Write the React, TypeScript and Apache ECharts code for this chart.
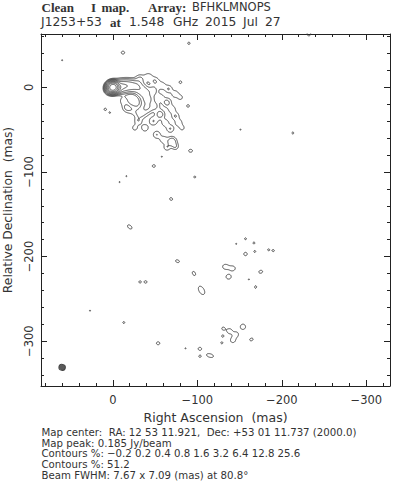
import React, { useEffect, useRef } from "react";
import * as echarts from "echarts";

// ---------------- data ----------------
const raLimits = [-328, 85]; // mas (RA increases to the left)
const decLimits = [-353, 63]; // mas
const contourPercents = [-0.2, 0.2, 0.4, 0.8, 1.6, 3.2, 6.4, 12.8, 25.6, 51.2];
const peakJy = 0.185;
const beamFwhm = [7.67, 7.09];
const beamPA = 80.8;
const beamCenter = [60, -331];
const mapCenterText = "RA: 12 53 11.921,  Dec: +53 01 11.737 (2000.0)";
const title1Words = ["Clean", "I", "map.", "Array:", "BFHKLMNOPS"];
const title2Words = ["J1253+53", "at", "1.548", "GHz", "2015", "Jul", "27"];

// model components: [RA mas, Dec mas, % of peak, FWHM major, FWHM minor, angle deg]
const coreComponents = [
  [0, 0, 96, 7.6, 7.0, 10],
  [-4, -1, 6, 8, 7, 0],
  [3, -3, 1.5, 8, 7, 0],
];
const jetComponents = [
  [-10, 1, 3.2, 12, 10, 0],
  [-19, 2, 2.0, 12, 10, 0],
  [-28, 1, 1.5, 12, 10, 0],
  [-36, -5, 1.2, 12, 10, 0],
  [-41, -14, 1.0, 12, 10, 0],
  [-40, -24, 0.8, 12, 10, 0],
  [-33, -31, 0.5, 12, 10, 0],
  [-22, -26, 0.32, 12, 10, 0],
  [-13, -16, 0.3, 10, 10, 0],
];
const diffuseComponents = [
  [-32, 10, 0.4, 9, 9, 0],
  [-42, 12, 0.35, 9, 9, 0],
  [-50, 7, 0.4, 9, 9, 0],
  [-58, 2, 0.35, 8, 8, 0],
  [-66, -2, 0.4, 8, 8, 0],
  [-74, -8, 0.35, 8, 8, 0],
  [-80, -12, 0.28, 6, 6, 0],
  [-48, -4, 0.55, 9, 9, 0],
  [-56, -12, 0.35, 8, 8, 0],
  [-64, -18, 0.5, 9, 9, 0],
  [-70, -26, 0.35, 8, 8, 0],
  [-74, -34, 0.4, 8, 8, 0],
  [-78, -42, 0.35, 8, 8, 0],
  [-82, -48, 0.28, 6, 6, 0],
  [-50, -22, 0.4, 9, 9, 0],
  [-56, -32, 0.55, 9, 9, 0],
  [-48, -40, 0.4, 9, 9, 0],
  [-62, -42, 0.35, 8, 8, 0],
  [-68, -49, 0.4, 8, 8, 0],
  [-30, -40, 0.35, 8, 8, 0],
  [-38, -48, 0.35, 8, 8, 0],
  [-26, -48, 0.28, 7, 7, 0],
  [-52, -56, 0.4, 8, 8, 0],
  [-60, -62, 0.35, 8, 8, 0],
  [-70, -64, 0.65, 9, 9, 0],
  [-64, -71, 0.35, 7, 7, 0],
  [-74, -70, 0.35, 7, 7, 0],
  [-16, -24, 0.33, 8, 8, 0],
];
const knotComponents = [
  [-90, 52, 0.23, 6, 6, 0],
  [-12, 41, 0.25, 7, 6, 0],
  [60, 32, 0.21, 5, 5, 0],
  [-80, 6, 0.24, 6, 6, 0],
  [-89, -22, 0.24, 6, 6, 0],
  [9, -26, 0.23, 6, 6, 0],
  [3.5, -30, 0.21, 5, 5, 0],
  [-92, -75, 0.25, 8, 6, 0],
  [-58, -82, 0.21, 5, 5, 0],
  [-48.5, -93, 0.24, 7, 6, 0],
  [-16, -105, 0.21, 5, 5, 0],
  [-8, -112, 0.21, 5, 5, 0],
  [-97, -106, 0.22, 6, 6, 0],
  [-69, -132, 0.24, 7, 6, -30],
  [-232, 63, 0.26, 7, 7, 0],
  [-151, -50, 0.21, 5, 5, 0],
  [-213, -54, 0.22, 6, 6, 0],
  [-20, -165, 0.26, 10, 6, -40],
  [-146, -185, 0.21, 5, 5, 0],
  [-157, -179, 0.22, 6, 6, 0],
  [-167, -184, 0.22, 6, 6, 0],
  [-157, -197, 0.25, 7, 7, 0],
  [-168, -194, 0.22, 6, 6, 0],
  [-184, -192, 0.21, 5, 5, 0],
  [-190, -193, 0.22, 6, 6, 0],
  [-76.5, -205.5, 0.24, 9, 6, -20],
  [-96, -220, 0.25, 9, 6, -60],
  [-133, -212, 0.27, 9, 8, 0],
  [-142, -214, 0.26, 9, 8, 0],
  [-137, -224, 0.27, 9, 8, 0],
  [-175, -218, 0.25, 8, 6, 15],
  [-161, -227, 0.21, 5, 5, 0],
  [-169, -236, 0.23, 7, 5, 80],
  [-32, -230, 0.22, 6, 6, 0],
  [-39, -230, 0.23, 6, 6, 0],
  [-105, -240, 0.3, 14, 8, -60],
  [-13, -278, 0.22, 6, 6, 0],
  [27, -264, 0.21, 5, 5, 0],
  [-130.5, -285, 0.23, 6, 6, 0],
  [-138, -288, 0.27, 8, 8, 0],
  [-146, -292, 0.26, 8, 8, 0],
  [-142, -299, 0.27, 8, 8, 0],
  [-154, -283, 0.3, 8, 8, 0],
  [-130, -294, 0.22, 6, 6, 0],
  [-129, -302, 0.22, 6, 6, 0],
  [-164, -298, 0.24, 8, 6, 20],
  [-53.6, -302.5, 0.25, 7, 6, 0],
  [-86, -308.5, 0.21, 5, 5, 0],
  [-103, -309, 0.25, 7, 6, 0],
  [-103, -318, 0.22, 6, 6, 0],
  [-115, -317, 0.28, 12, 6, -15],
];

// ---------------- layout ----------------
const title1X = [41.5, 91, 101.5, 148, 192];
const title1Serif = [true, true, true, true, false];
const title2X = [41, 110, 129, 173, 205, 243, 265];
const title2Serif = [false, true, false, false, false, false, false];
const SANS = "'DejaVu Sans', sans-serif";
const SERIF = "'Liberation Serif', serif";
const INK = "#333";

// ---------------- model image + contouring ----------------
function buildImage(step: number) {
  const x0 = raLimits[0] - 4;
  const y0 = decLimits[0] - 4;
  const nx = Math.ceil((raLimits[1] - raLimits[0] + 8) / step) + 1;
  const ny = Math.ceil((decLimits[1] - decLimits[0] + 8) / step) + 1;
  const f = new Float32Array(nx * ny);
  const all = [...coreComponents, ...jetComponents, ...diffuseComponents, ...knotComponents];
  for (const c of all) {
    const [ra, dec, amp, fMaj, fMin, ang] = c;
    const sMaj = fMaj / 2.3548;
    const sMin = fMin / 2.3548;
    const th = (ang * Math.PI) / 180;
    const ct = Math.cos(th);
    const st = Math.sin(th);
    const R = 5 * sMaj;
    const i0 = Math.max(0, Math.floor((ra - R - x0) / step));
    const i1 = Math.min(nx - 1, Math.ceil((ra + R - x0) / step));
    const j0 = Math.max(0, Math.floor((dec - R - y0) / step));
    const j1 = Math.min(ny - 1, Math.ceil((dec + R - y0) / step));
    for (let j = j0; j <= j1; j++) {
      const v = y0 + j * step - dec;
      for (let i = i0; i <= i1; i++) {
        const u = -(x0 + i * step - ra);
        const p = u * ct + v * st;
        const q = -u * st + v * ct;
        f[j * nx + i] += amp * Math.exp(-0.5 * ((p * p) / (sMaj * sMaj) + (q * q) / (sMin * sMin)));
      }
    }
  }
  return { f, nx, ny, x0, y0, step };
}

function contourLines(img: any, L: number): number[][][] {
  const { f, nx, ny, x0, y0, step } = img;
  const pts = new Map<number, number[]>();
  const adj = new Map<number, number[]>();
  const V = (i: number, j: number) => f[j * nx + i];
  const keyH = (i: number, j: number) => (j * nx + i) * 2;
  const keyV = (i: number, j: number) => (j * nx + i) * 2 + 1;
  const getPt = (k: number) => {
    let p = pts.get(k);
    if (p) return p;
    const cell = k >> 1;
    const i = cell % nx;
    const j = (cell - i) / nx;
    if ((k & 1) === 0) {
      const a = V(i, j), b = V(i + 1, j);
      const t = (L - a) / (b - a);
      p = [x0 + (i + t) * step, y0 + j * step];
    } else {
      const a = V(i, j), b = V(i, j + 1);
      const t = (L - a) / (b - a);
      p = [x0 + i * step, y0 + (j + t) * step];
    }
    pts.set(k, p);
    return p;
  };
  const link = (k1: number, k2: number) => {
    getPt(k1);
    getPt(k2);
    if (!adj.has(k1)) adj.set(k1, []);
    if (!adj.has(k2)) adj.set(k2, []);
    adj.get(k1)!.push(k2);
    adj.get(k2)!.push(k1);
  };
  const table: number[][] = [
    [], [3, 0], [0, 1], [3, 1], [1, 2], [3, 0, 1, 2], [0, 2], [3, 2],
    [2, 3], [0, 2], [0, 1, 2, 3], [1, 2], [1, 3], [0, 1], [3, 0], [],
  ];
  for (let j = 0; j < ny - 1; j++) {
    for (let i = 0; i < nx - 1; i++) {
      const a = V(i, j), b = V(i + 1, j), c = V(i + 1, j + 1), d = V(i, j + 1);
      const idx = (a > L ? 1 : 0) | (b > L ? 2 : 0) | (c > L ? 4 : 0) | (d > L ? 8 : 0);
      if (idx === 0 || idx === 15) continue;
      const e = [keyH(i, j), keyV(i + 1, j), keyH(i, j + 1), keyV(i, j)];
      const s = table[idx];
      for (let m = 0; m < s.length; m += 2) link(e[s[m]], e[s[m + 1]]);
    }
  }
  const visited = new Set<number>();
  const out: number[][][] = [];
  const walk = (start: number) => {
    const path = [start];
    visited.add(start);
    let prev = -1;
    let cur = start;
    for (;;) {
      const nb = adj.get(cur)!;
      let next = -1;
      for (const n of nb) if (n !== prev && !visited.has(n)) { next = n; break; }
      if (next < 0) {
        if (path.length > 2 && nb.includes(start)) path.push(start);
        break;
      }
      visited.add(next);
      path.push(next);
      prev = cur;
      cur = next;
    }
    out.push(path.map((k) => pts.get(k)!));
  };
  for (const [k, nb] of adj) if (nb.length === 1 && !visited.has(k)) walk(k);
  for (const k of adj.keys()) if (!visited.has(k)) walk(k);
  return out;
}

const fmtTick = (v: number) => (v % 100 !== 0 ? "" : v === 0 ? "0" : v < 0 ? "\u2212" + Math.abs(v) : String(v));

export default function App() {
  const ref = useRef<HTMLDivElement>(null);
  useEffect(() => {
    if (!ref.current) return;
    const chart = echarts.init(ref.current, undefined, { renderer: "svg" });
    const img = buildImage(0.5);
    const series: any[] = [];
    for (const lev of contourPercents) {
      const polys = contourLines(img, lev);
      if (!polys.length) continue;
      series.push({
        type: "lines",
        coordinateSystem: "cartesian2d",
        polyline: true,
        silent: true,
        clip: true,
        z: 3,
        lineStyle: { color: "#3a3a3a", width: 0.9, opacity: 1, type: lev < 0 ? "dashed" : "solid" },
        data: polys.map((p) => ({ coords: p })),
      });
    }
    series.push({
      type: "custom",
      silent: true,
      z: 4,
      data: [[beamCenter[0], beamCenter[1], beamFwhm[0], beamFwhm[1], beamPA]],
      renderItem: (_p: any, api: any) => {
        const c = api.coord([api.value(0), api.value(1)]);
        const s = api.size([api.value(2), api.value(3)]);
        return {
          type: "ellipse",
          x: c[0],
          y: c[1],
          rotation: ((api.value(4) - 90) * Math.PI) / 180,
          shape: { cx: 0, cy: 0, rx: s[0] / 2, ry: s[1] / 2 },
          style: { fill: "#5a5a5a", stroke: "#444", lineWidth: 1 },
        };
      },
    });

    const axisCommon = {
      type: "value",
      splitLine: { show: false },
      axisLine: { show: true, onZero: false, lineStyle: { color: "#222", width: 1 } },
      axisTick: { show: true, inside: true, length: 6, lineStyle: { color: "#222", width: 1 } },
      minorTick: { show: true, splitNumber: 5, length: 3, lineStyle: { color: "#222", width: 1 } },
      minInterval: 100,
      maxInterval: 100,
    };
    const labelStyle = { fontFamily: SANS, fontSize: 11.5, color: INK };

    const graphics: any[] = [];
    title1Words.forEach((w, i) =>
      graphics.push({
        type: "text",
        x: title1X[i],
        y: 7,
        style: {
          text: w,
          fill: INK,
          font: title1Serif[i] ? `bold 13px ${SERIF}` : `11.5px ${SANS}`,
          verticalAlign: "middle",
        },
      })
    );
    title2Words.forEach((w, i) =>
      graphics.push({
        type: "text",
        x: title2X[i],
        y: 22,
        style: {
          text: w,
          fill: INK,
          font: title2Serif[i] ? `bold 13px ${SERIF}` : `12.3px ${SANS}`,
          verticalAlign: "middle",
        },
      })
    );
    const fmtLev = (v: number) => (v < 0 ? "\u2212" + Math.abs(v) : String(v));
    const footer = [
      "Map center:  " + mapCenterText,
      "Map peak: " + peakJy + " Jy/beam",
      "Contours %: " + contourPercents.slice(0, 9).map(fmtLev).join(" "),
      "Contours %: " + contourPercents.slice(9).map(fmtLev).join(" "),
      "Beam FWHM: " + beamFwhm[0] + " x " + beamFwhm[1] + " (mas) at " + beamPA + "\u00b0",
    ];
    footer.forEach((t, i) =>
      graphics.push({
        type: "text",
        x: 41.5,
        y: 432.3 + i * 10.75,
        style: { text: t, fill: INK, font: `10.2px ${SANS}`, verticalAlign: "middle" },
      })
    );

    chart.setOption({
      animation: false,
      backgroundColor: "#fff",
      grid: { left: 41, right: 4, top: 34, bottom: 105, containLabel: false, outerBoundsMode: "none" },
      xAxis: [
        {
          ...axisCommon,
          min: raLimits[0],
          max: raLimits[1],
          inverse: true,
          position: "bottom",
          axisLabel: { ...labelStyle, formatter: fmtTick, margin: 8 },
          name: "Right Ascension  (mas)",
          nameLocation: "middle",
          nameGap: 24,
          nameTextStyle: { fontFamily: SANS, fontSize: 12.5, color: INK },
        },
        {
          ...axisCommon,
          min: raLimits[0],
          max: raLimits[1],
          inverse: true,
          position: "top",
          axisLabel: { show: false },
        },
      ],
      yAxis: [
        {
          ...axisCommon,
          min: decLimits[0],
          max: decLimits[1],
          position: "left",
          axisLabel: { ...labelStyle, formatter: fmtTick, rotate: 90, margin: 6 },
          name: "Relative Declination  (mas)",
          nameLocation: "middle",
          nameGap: 27,
          nameTextStyle: { fontFamily: SANS, fontSize: 12.3, color: INK },
        },
        {
          ...axisCommon,
          min: decLimits[0],
          max: decLimits[1],
          position: "right",
          axisLabel: { show: false },
        },
      ],
      graphic: graphics,
      series,
    });
    return () => chart.dispose();
  }, []);
  return <div ref={ref} style={{ width: 394, height: 491, position: "absolute", left: 0, top: 0 }} />;
}
